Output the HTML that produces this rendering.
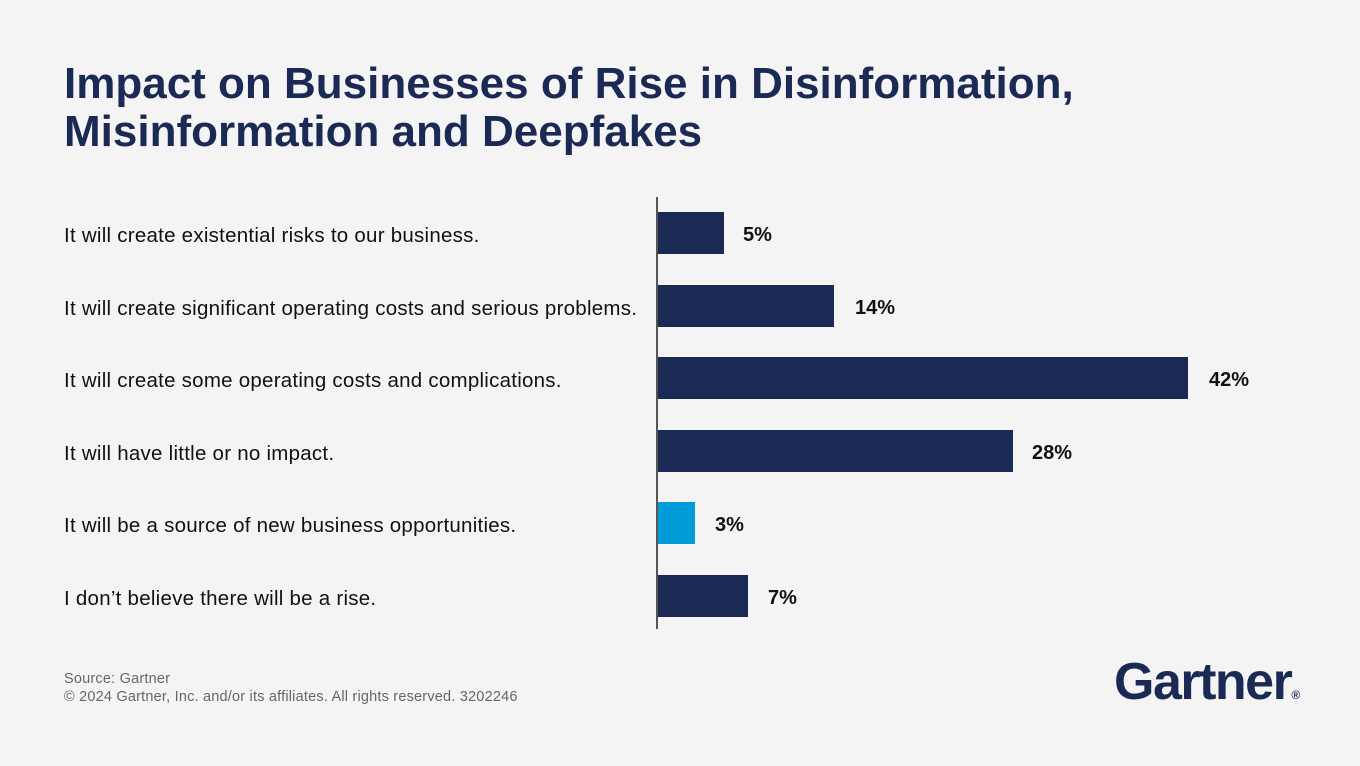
<!DOCTYPE html>
<html><head><meta charset="utf-8"><style>
body{margin:0;width:1360px;height:766px;background:#f4f4f4;font-family:"Liberation Sans",sans-serif;position:relative;overflow:hidden;color:#111}
.t{position:absolute;left:64px;top:60px;font-size:44px;font-weight:bold;color:#1b2a55;line-height:48px;letter-spacing:0px}
.axis{position:absolute;left:656px;top:197px;width:2px;height:432px;background:#555}
.lab{position:absolute;left:64px;font-size:20.5px;letter-spacing:0.25px;line-height:42px;color:#111}
.bar{position:absolute;left:658px;height:42px;background:#1b2a55}
.v{position:absolute;font-size:20px;font-weight:bold;line-height:42px;color:#111}
.f{position:absolute;left:64px;font-size:14.5px;letter-spacing:0.2px;color:#666}
.logo{position:absolute;left:1114px;top:652px;font-size:52px;font-weight:bold;color:#1b2a55;letter-spacing:-1.5px}
</style></head><body>
<div class="t">Impact on Businesses of Rise in Disinformation,<br>Misinformation and Deepfakes</div>
<div class="axis"></div>
<div class="lab" style="top:215px">It will create existential risks to our business.</div>
<div class="lab" style="top:288px">It will create significant operating costs and serious problems.</div>
<div class="lab" style="top:360px">It will create some operating costs and complications.</div>
<div class="lab" style="top:433px">It will have little or no impact.</div>
<div class="lab" style="top:505px">It will be a source of new business opportunities.</div>
<div class="lab" style="top:578px">I don’t believe there will be a rise.</div>
<div class="bar" style="top:212px;width:66px"></div><div class="v" style="top:214px;left:743px">5%</div>
<div class="bar" style="top:285px;width:176px"></div><div class="v" style="top:287px;left:855px">14%</div>
<div class="bar" style="top:357px;width:530px"></div><div class="v" style="top:359px;left:1209px">42%</div>
<div class="bar" style="top:430px;width:355px"></div><div class="v" style="top:432px;left:1032px">28%</div>
<div class="bar" style="top:502px;width:37px;background:#009bd9"></div><div class="v" style="top:504px;left:715px">3%</div>
<div class="bar" style="top:575px;width:90px"></div><div class="v" style="top:577px;left:768px">7%</div>
<div class="f" style="top:671px">Source: Gartner</div>
<div class="f" style="top:689px">© 2024 Gartner, Inc. and/or its affiliates. All rights reserved. 3202246</div>
<div class="logo">Gartner<span style="font-size:12px;vertical-align:baseline">®</span></div>
</body></html>
